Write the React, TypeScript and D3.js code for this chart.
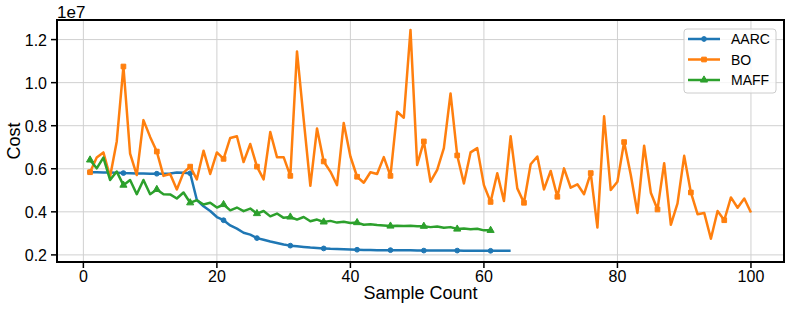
import React from "react";
import * as d3 from "d3";

// Cost values in units of 1e7, one per sample (sample count starts at 1)
const aarcCost = [
  0.584, 0.584, 0.583, 0.583, 0.582, 0.580, 0.579, 0.578, 0.578, 0.577,
  0.577, 0.577, 0.578, 0.583, 0.581, 0.579, 0.455, 0.426, 0.404, 0.376,
  0.361, 0.337, 0.322, 0.303, 0.294, 0.278, 0.270, 0.262, 0.255, 0.248,
  0.243, 0.240, 0.237, 0.234, 0.232, 0.230, 0.228, 0.227, 0.226, 0.225,
  0.224, 0.223, 0.223, 0.222, 0.222, 0.222, 0.221, 0.221, 0.221, 0.220,
  0.220, 0.220, 0.220, 0.220, 0.220, 0.220, 0.219, 0.219, 0.219, 0.219,
  0.219, 0.219, 0.219, 0.219,
];

const boCost = [
  0.584, 0.652, 0.676, 0.563, 0.727, 1.075, 0.670, 0.571, 0.826, 0.748,
  0.680, 0.567, 0.576, 0.504, 0.582, 0.610, 0.551, 0.684, 0.576, 0.676,
  0.646, 0.743, 0.751, 0.631, 0.715, 0.610, 0.551, 0.771, 0.654, 0.654,
  0.567, 1.145, 0.830, 0.521, 0.787, 0.634, 0.587, 0.524, 0.813, 0.657,
  0.563, 0.535, 0.584, 0.576, 0.654, 0.567, 0.865, 0.837, 1.245, 0.618,
  0.727, 0.540, 0.595, 0.696, 0.950, 0.662, 0.532, 0.676, 0.696, 0.524,
  0.446, 0.579, 0.450, 0.751, 0.509, 0.442, 0.621, 0.657, 0.504, 0.590,
  0.470, 0.602, 0.512, 0.528, 0.482, 0.580, 0.327, 0.844, 0.501, 0.540,
  0.724, 0.571, 0.395, 0.707, 0.489, 0.411, 0.626, 0.340, 0.439, 0.660,
  0.490, 0.389, 0.395, 0.275, 0.404, 0.361, 0.467, 0.419, 0.462, 0.397,
];

const maffCost = [
  0.641, 0.602, 0.652, 0.548, 0.587, 0.524, 0.548, 0.482, 0.548, 0.482,
  0.504, 0.482, 0.481, 0.462, 0.490, 0.442, 0.454, 0.434, 0.442, 0.420,
  0.434, 0.407, 0.420, 0.403, 0.415, 0.392, 0.404, 0.379, 0.392, 0.372,
  0.376, 0.364, 0.376, 0.356, 0.364, 0.353, 0.358, 0.350, 0.354, 0.348,
  0.350, 0.340, 0.342, 0.339, 0.337, 0.334, 0.335, 0.334, 0.335, 0.333,
  0.333, 0.329, 0.332, 0.326, 0.329, 0.320, 0.323, 0.319, 0.321, 0.314,
  0.314,
];

const xTicks = [0, 20, 40, 60, 80, 100];
const yTicks = [0.2, 0.4, 0.6, 0.8, 1.0, 1.2];

const series = [
  { name: "AARC", color: "#1f77b4", marker: "circle", values: aarcCost },
  { name: "BO", color: "#ff7f0e", marker: "square", values: boCost },
  { name: "MAFF", color: "#2ca02c", marker: "triangle", values: maffCost },
];

const W = 789;
const H = 310;
const margin = { top: 20, right: 5, bottom: 48, left: 57 };
const FONT = "'Liberation Sans', Arial, Helvetica, sans-serif";

const symbolFor = (m: string) =>
  m === "circle" ? d3.symbolCircle : m === "square" ? d3.symbolSquare : d3.symbolTriangle;
const sizeFor = (m: string) => (m === "circle" ? 18 : m === "square" ? 22 : 22);

const Marker = ({ kind, color, x, y }: any) => (
  <path
    d={d3.symbol(symbolFor(kind), sizeFor(kind))() as string}
    transform={`translate(${x},${y})`}
    fill={color}
    stroke={color}
    strokeWidth={1}
  />
);

export default function App() {
  const x = d3
    .scaleLinear()
    .domain([-3.95, 104.95])
    .range([margin.left, W - margin.right]);
  const y = d3
    .scaleLinear()
    .domain([0.167, 1.291])
    .range([H - margin.bottom, margin.top]);

  const line = d3
    .line<number>()
    .x((_, i) => x(i + 1))
    .y((d) => y(d));

  const x0 = margin.left;
  const x1 = W - margin.right;
  const y0 = H - margin.bottom;
  const y1 = margin.top;

  return (
    <svg
      width={W}
      height={H}
      style={{ position: "absolute", left: 0, top: 0, background: "#fff" }}
      fontFamily={FONT}
    >
      {/* grid */}
      {xTicks.map((t) => (
        <line key={"gx" + t} x1={x(t)} x2={x(t)} y1={y1} y2={y0} stroke="#d0d0d0" strokeWidth={1} />
      ))}
      {yTicks.map((t) => (
        <line key={"gy" + t} x1={x0} x2={x1} y1={y(t)} y2={y(t)} stroke="#d0d0d0" strokeWidth={1} />
      ))}

      {/* series, markers every 5th sample */}
      {series.map((s) => (
        <g key={s.name}>
          <path d={line(s.values) as string} fill="none" stroke={s.color} strokeWidth={2.5} strokeLinejoin="round" />
          {s.values.map((v, i) =>
            i % 5 === 0 ? <Marker key={i} kind={s.marker} color={s.color} x={x(i + 1)} y={y(v)} /> : null
          )}
        </g>
      ))}

      {/* frame */}
      <rect x={x0} y={y1} width={x1 - x0} height={y0 - y1} fill="none" stroke="#000" strokeWidth={2} />

      {/* x axis */}
      {xTicks.map((t) => (
        <g key={"tx" + t}>
          <line x1={x(t)} x2={x(t)} y1={y0} y2={y0 + 6} stroke="#000" strokeWidth={1.5} />
          <text x={x(t)} y={y0 + 20} textAnchor="middle" fontSize={16} fill="#000">
            {t}
          </text>
        </g>
      ))}
      <text x={(x0 + x1) / 2} y={299} textAnchor="middle" fontSize={18} fill="#000">
        Sample Count
      </text>

      {/* y axis */}
      {yTicks.map((t) => (
        <g key={"ty" + t}>
          <line x1={x0 - 6} x2={x0} y1={y(t)} y2={y(t)} stroke="#000" strokeWidth={1.5} />
          <text x={x0 - 10} y={y(t) + 6.5} textAnchor="end" fontSize={16} fill="#000">
            {t.toFixed(1)}
          </text>
        </g>
      ))}
      <text x={57} y={18} fontSize={17} fill="#000">
        1e7
      </text>
      <text
        transform={`translate(20,${(y0 + y1) / 2}) rotate(-90)`}
        textAnchor="middle"
        fontSize={18}
        fill="#000"
      >
        Cost
      </text>

      {/* legend */}
      <g>
        <rect x={684} y={29} width={92} height={64} rx={3} fill="#fff" fillOpacity={0.8} stroke="#ccc" strokeWidth={1} />
        {series.map((s, i) => {
          const ly = 39 + i * 20.5;
          return (
            <g key={"lg" + s.name}>
              <line x1={688} x2={720} y1={ly} y2={ly} stroke={s.color} strokeWidth={2.5} />
              <Marker kind={s.marker} color={s.color} x={704} y={ly} />
              <text x={731} y={ly + 5} fontSize={14} fill="#000">
                {s.name}
              </text>
            </g>
          );
        })}
      </g>
    </svg>
  );
}
